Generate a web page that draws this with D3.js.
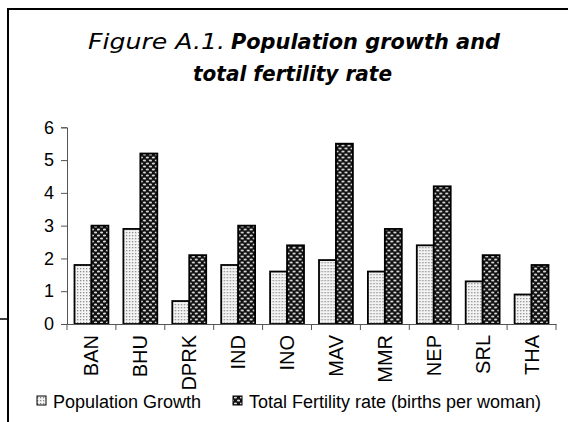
<!DOCTYPE html>
<html>
<head>
<meta charset="utf-8">
<script src="https://cdn.jsdelivr.net/npm/d3@7"></script>
<style>
  html, body { margin: 0; padding: 0; background: #fff; }
  svg { display: block; }
  .tick-label { font-family: "Liberation Sans", Arial, sans-serif; fill: #000; }
  .title { font-family: "DejaVu Sans", Verdana, sans-serif; font-size: 22px; font-style: italic; fill: #000; }
</style>
</head>
<body>
<div id="chart"></div>
<script>
var countries = ['BAN', 'BHU', 'DPRK', 'IND', 'INO', 'MAV', 'MMR', 'NEP', 'SRL', 'THA'];
var popGrowth = [1.8, 2.9, 0.7, 1.8, 1.6, 1.95, 1.6, 2.4, 1.3, 0.9];
var fertility = [3.0, 5.2, 2.1, 3.0, 2.4, 5.5, 2.9, 4.2, 2.1, 1.8];
var seriesNames = ['Population Growth', 'Total Fertility rate (births per woman)'];
var yTicks = [0, 1, 2, 3, 4, 5, 6];

var W = 568, H = 422;

var svg = d3.select('#chart').append('svg')
  .attr('width', W)
  .attr('height', H);

// patterns
var defs = svg.append('defs');

var pPop = defs.append('pattern')
  .attr('id', 'pat-pop')
  .attr('patternUnits', 'userSpaceOnUse')
  .attr('width', 3).attr('height', 3);
pPop.append('rect').attr('width', 3).attr('height', 3).attr('fill', '#f4f4f4');
pPop.append('rect').attr('x', 1).attr('y', 1).attr('width', 1.3).attr('height', 1.3).attr('fill', '#8c8c8c');

var pFert = defs.append('pattern')
  .attr('id', 'pat-fert')
  .attr('patternUnits', 'userSpaceOnUse')
  .attr('width', 6).attr('height', 6);
pFert.append('rect').attr('width', 6).attr('height', 6).attr('fill', '#111');
pFert.append('ellipse').attr('cx', 1.5).attr('cy', 1.5).attr('rx', 1.6).attr('ry', 0.9).attr('fill', '#d8d8d8');
pFert.append('ellipse').attr('cx', 4.5).attr('cy', 4.5).attr('rx', 1.6).attr('ry', 0.9).attr('fill', '#d8d8d8');

var fills = ['url(#pat-pop)', 'url(#pat-fert)'];

// frame lines
svg.append('path')
  .attr('d', 'M8,422 L8,9 L568,9')
  .attr('fill', 'none')
  .attr('stroke', '#000')
  .attr('stroke-width', 2);
svg.append('line')
  .attr('x1', 0).attr('x2', 8)
  .attr('y1', 319).attr('y2', 319)
  .attr('stroke', '#000')
  .attr('stroke-width', 1.5);

// title (widths fitted to the reference)
svg.append('text')
  .attr('class', 'title')
  .attr('x', 88).attr('y', 49)
  .attr('textLength', 137)
  .attr('lengthAdjust', 'spacingAndGlyphs')
  .text('Figure A.1.');
svg.append('text')
  .attr('class', 'title')
  .attr('x', 231).attr('y', 49)
  .attr('textLength', 269)
  .attr('lengthAdjust', 'spacingAndGlyphs')
  .style('font-weight', 'bold')
  .text('Population growth and');
svg.append('text')
  .attr('class', 'title')
  .attr('x', 193).attr('y', 81)
  .attr('textLength', 199)
  .attr('lengthAdjust', 'spacingAndGlyphs')
  .style('font-weight', 'bold')
  .text('total fertility rate');

// scales
var x = d3.scaleBand()
  .domain(countries)
  .range([67, 556])
  .paddingInner(0)
  .paddingOuter(0);

var x1 = d3.scaleBand()
  .domain([0, 1])
  .range([7.5, x.bandwidth() - 7.5]);

var y = d3.scaleLinear()
  .domain([0, 6])
  .range([324, 127.3]);

var rows = countries.map(function(c, i) {
  return { country: c, values: [popGrowth[i], fertility[i]] };
});

// bars
var groups = svg.selectAll('.grp')
  .data(rows)
  .enter().append('g')
  .attr('class', 'grp')
  .attr('transform', function(d) { return 'translate(' + x(d.country) + ',0)'; });

groups.selectAll('rect')
  .data(function(d) { return d.values.map(function(v, k) { return { k: k, v: v }; }); })
  .enter().append('rect')
  .attr('x', function(d) { return x1(d.k); })
  .attr('y', function(d) { return y(d.v); })
  .attr('width', x1.bandwidth())
  .attr('height', function(d) { return y(0) - y(d.v); })
  .attr('fill', function(d) { return fills[d.k]; })
  .attr('stroke', '#000')
  .attr('stroke-width', 1.8);

// y axis
var gy = svg.append('g')
  .attr('transform', 'translate(67,0)')
  .call(d3.axisLeft(y).tickValues(yTicks).tickFormat(d3.format('d')).tickSize(6).tickPadding(7));
gy.select('.domain').attr('stroke', '#555');
gy.selectAll('.tick line').attr('stroke', '#555');
gy.selectAll('text')
  .attr('class', 'tick-label')
  .style('font-size', '18px');

// x axis: ticks on category boundaries
var gx = svg.append('g')
  .attr('transform', 'translate(0,' + y(0) + ')')
  .call(d3.axisBottom(x).tickSize(0).tickFormat(''));
gx.select('.domain').attr('stroke', '#555');
gx.selectAll('.tick').remove();

var bounds = countries.map(function(c) { return x(c); }).concat([x.range()[1]]);
gx.selectAll('.bnd')
  .data(bounds)
  .enter().append('line')
  .attr('class', 'bnd')
  .attr('x1', function(d) { return d; })
  .attr('x2', function(d) { return d; })
  .attr('y1', 0).attr('y2', 6)
  .attr('stroke', '#555');

svg.selectAll('.xlab')
  .data(countries)
  .enter().append('text')
  .attr('class', 'tick-label')
  .attr('transform', function(d) {
    return 'translate(' + (x(d) + x.bandwidth() / 2) + ',335) rotate(-90)';
  })
  .attr('text-anchor', 'end')
  .attr('dy', '0.35em')
  .style('font-size', '20px')
  .text(function(d) { return d; });

// legend
var legend = svg.append('g');
var legendX = [37, 233];
seriesNames.forEach(function(name, k) {
  legend.append('rect')
    .attr('x', legendX[k]).attr('y', 396)
    .attr('width', 9).attr('height', 9)
    .attr('fill', fills[k])
    .attr('stroke', '#000')
    .attr('stroke-width', 1);
  legend.append('text')
    .attr('class', 'tick-label')
    .attr('x', legendX[k] + 16)
    .attr('y', 408)
    .style('font-size', '18px')
    .text(name);
});
</script>
</body>
</html>
